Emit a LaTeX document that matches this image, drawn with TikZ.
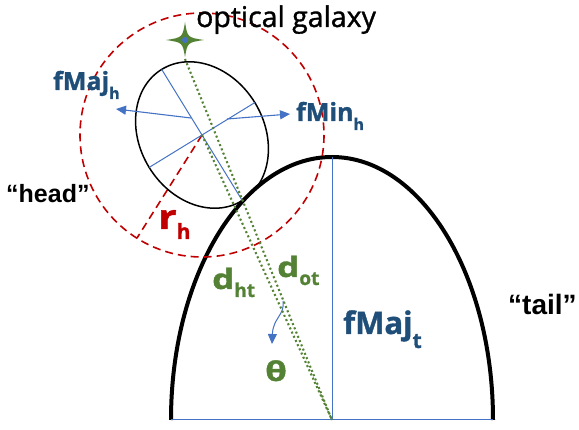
\documentclass[tikz,border=0pt]{standalone}
\usepackage{fontspec}
\setmainfont{Open Sans}[BoldFeatures={FakeBold=1.2}]
\newfontfamily\galfont[FakeBold=1.2]{Open Sans}
\newfontfamily\arialfont{Liberation Sans}
\usetikzlibrary{arrows.meta}
\definecolor{lineblue}{HTML}{4472C4}
\definecolor{textblue}{HTML}{1F4E79}
\definecolor{dgreen}{HTML}{548235}
\definecolor{dred}{HTML}{C00000}
\newcommand{\mysub}[3]{\raisebox{-#2pt}{\fontsize{#1}{#1}\selectfont #3}}
\newcommand{\fs}[1]{\fontsize{#1}{#1}\selectfont}
\newcommand{\wide}[2]{\scalebox{#1}[1]{#2}}
\tikzset{
  lbl/.style={inner sep=0pt, anchor=base west},
  bluelbl/.style={lbl, text=textblue, font=\bfseries},
  greenlbl/.style={lbl, text=dgreen, font=\bfseries},
  quotelbl/.style={lbl, text=black, font=\arialfont\bfseries},
  axisline/.style={lineblue, line width=1pt},
  bluearrow/.style={lineblue, line width=1.1pt, -{Triangle[length=10pt,width=9pt]}},
  greendots/.style={dgreen, line width=2.1pt, dash pattern=on 2pt off 2.6pt},
  reddash/.style={dred, line width=1.6pt, dash pattern=on 8pt off 5pt}
}
\begin{document}
\begin{tikzpicture}[x=1pt,y=-1pt]
\useasboundingbox (0,0) rectangle (579,430);
% key points
\coordinate (C) at (202,135);
\coordinate (B) at (332,420);
\coordinate (T) at (332,157);
\coordinate (BL) at (171,420);
\coordinate (BR) at (493,420);
\coordinate (E) at (185,59);
\coordinate (majA) at (161.7,69.4);
\coordinate (majB) at (242.3,200.6);
\coordinate (minA) at (149.2,167.4);
\coordinate (minB) at (254.8,102.6);
\coordinate (R) at (136.9,238.2);
\coordinate (S) at (185,40);
% tail
\draw[line width=4pt] (BL) arc[start angle=180, end angle=360, x radius=161, y radius=263];
\draw[axisline] (BL) -- (BR);
\draw[axisline] (T) -- (B);
% dashed head circle
\draw[reddash] (C) circle[radius=122];
\draw[reddash] (C) -- (R);
% head ellipse
\draw[line width=1.5pt, rotate around={-58.5:(C)}] (C) ellipse[x radius=77, y radius=62];
\draw[axisline] (majA) -- (majB);
\draw[axisline] (minA) -- (minB);
\coordinate (a1) at (191,118);
\coordinate (a1t) at (116,109);
\coordinate (a2) at (227,119);
\coordinate (a2t) at (290,114);
\draw[bluearrow] (a1) -- (a1t);
\draw[bluearrow] (a2) -- (a2t);
% green dotted lines
\draw[greendots] (E) -- (B);
\draw[greendots] (C) -- (B);
% theta arrow
\coordinate (th1) at (283,301);
\coordinate (th2) at (272,344);
\draw[lineblue, line width=1pt, -{Triangle[length=10pt,width=9pt]}] (th1) .. controls (285,315) and (273,318) .. (th2);
% star
\fill[dgreen] (185,22) .. controls (187.5,37.5) .. (204,40) .. controls (187.5,42.5) .. (185,57)
   .. controls (182.5,42.5) .. (166,40) .. controls (182.5,37.5) .. (185,22) -- cycle;
\fill[lineblue] (S) circle[radius=3];
% labels
\node[lbl, font=\galfont\fs{28.5}] (og) at (196,27) {optical galaxy};
\node[bluelbl, font=\bfseries\fs{25}] (fmajh) at (53,90) {fMaj\mysub{16}{9}{h}};
\node[bluelbl, font=\bfseries\fs{25}] (fminh) at (296,121) {fMin\mysub{16}{9}{h}};
\node[quotelbl, font=\arialfont\bfseries\fs{25}] (head) at (6,203) {“head”};
\node[quotelbl, font=\arialfont\bfseries\fs{28}] (tail) at (508,315) {“tail”};
\node[bluelbl, font=\bfseries\fs{31}] (fmajt) at (343,334) {fMaj\mysub{21}{14}{t}};
\node[lbl, text=dred, font=\bfseries\fs{34}] (rh) at (158,229) {\wide{1.2}{r}\mysub{21}{10}{h}};
\node[greenlbl, font=\bfseries\fs{28}] (dht) at (212,289) {\wide{1.25}{d}\mysub{19}{8}{ht}};
\node[greenlbl, font=\bfseries\fs{28}] (dot) at (277,277) {\wide{1.25}{d}\mysub{19}{8}{ot}};
\node[greenlbl, font=\bfseries\fs{27}] (theta) at (265,381) {\wide{1.3}{θ}};
\end{tikzpicture}
\end{document}
